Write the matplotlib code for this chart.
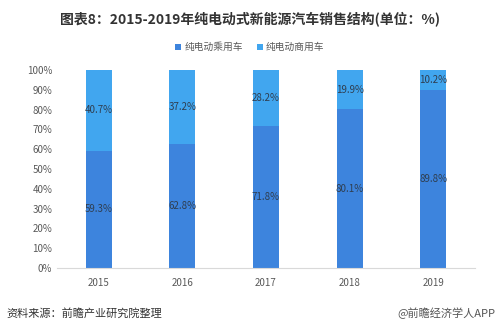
import matplotlib
matplotlib.use("Agg")
import matplotlib.pyplot as plt
import numpy as np

plt.rcParams['font.family'] = ['Noto Sans CJK SC', 'DejaVu Sans']

years = ['2015', '2016', '2017', '2018', '2019']
passenger = [59.3, 62.8, 71.8, 80.1, 89.8]
commercial = [40.7, 37.2, 28.2, 19.9, 10.2]

c_pass = '#3d84dd'
c_comm = '#41a6ef'

fig = plt.figure(figsize=(5, 3.33), dpi=100)
ax = fig.add_axes([0.114, 0.195, 0.836, 0.595])

x = np.arange(len(years))
w = 0.31
ax.bar(x, passenger, w, color=c_pass, label='纯电动乘用车')
ax.bar(x, commercial, w, bottom=passenger, color=c_comm, label='纯电动商用车')

for i in range(len(years)):
    ax.text(x[i], passenger[i] / 2, '%.1f%%' % passenger[i], ha='center', va='center',
            fontsize=7, color='#2f3e50')
    ax.text(x[i], passenger[i] + commercial[i] / 2, '%.1f%%' % commercial[i], ha='center',
            va='center', fontsize=7, color='#2f3e50')

ax.set_xlim(-0.5, len(years) - 0.5)
ax.set_ylim(0, 100)
ax.set_yticks(range(0, 101, 10))
ax.set_yticklabels(['%d%%' % v for v in range(0, 101, 10)])
ax.set_xticks(x)
ax.set_xticklabels(years)
ax.tick_params(axis='both', length=0, labelsize=7, colors='#595959')
ax.tick_params(axis='x', pad=7)
for s in ['top', 'right', 'left']:
    ax.spines[s].set_visible(False)
ax.spines['bottom'].set_color('#d9d9d9')

fig.text(0.5, 0.945, '图表8：2015-2019年纯电动式新能源汽车销售结构(单位：%)', ha='center', va='center',
         fontsize=10, fontweight='bold', color='#333333')
fig.legend(loc='center', bbox_to_anchor=(0.5, 0.858), ncol=2, frameon=False, fontsize=7,
           handlelength=0.6, handleheight=0.6, handletextpad=0.3, columnspacing=1.5,
           labelcolor='#595959')
fig.text(0.012, 0.058, '资料来源：前瞻产业研究院整理', ha='left', va='center', fontsize=8, color='#333333')
fig.text(0.99, 0.058, '@前瞻经济学人APP', ha='right', va='center', fontsize=8, color='#555555')

fig.savefig('out.png', dpi=100)
